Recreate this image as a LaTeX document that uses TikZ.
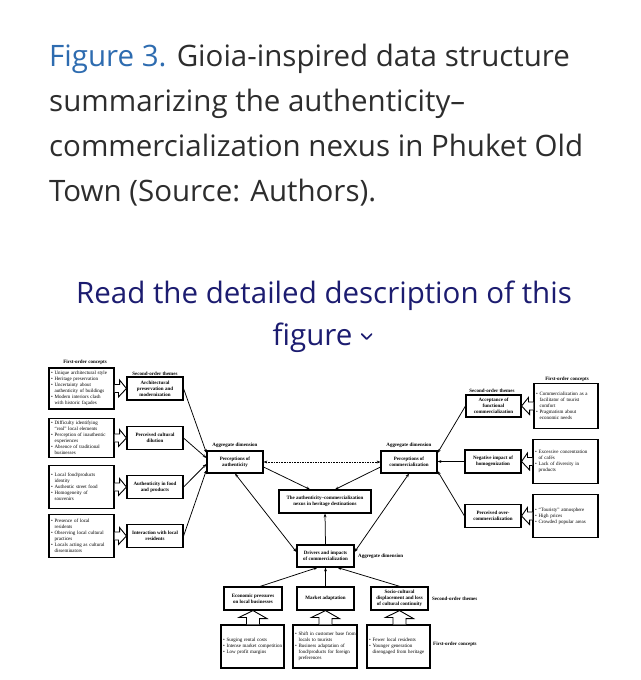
\documentclass[tikz,border=0pt]{standalone}
\usepackage{fontspec}
\setmainfont{Open Sans}
\newfontfamily\dfont{Liberation Serif}
\usetikzlibrary{arrows.meta,calc}
\definecolor{figblue}{RGB}{46,108,176}
\definecolor{captxt}{RGB}{45,45,45}
\definecolor{readnavy}{RGB}{28,28,112}
\newcommand\bl[1]{\mbox{\textbullet\ #1}}
\newcommand\cl[1]{\mbox{\phantom{\textbullet\ }#1}}
\begin{document}
\begin{tikzpicture}[x=1pt,y=-1pt,
  captext/.style={anchor=base west,inner sep=0,font=\fontsize{29.5}{36}\selectfont,text=captxt},
  readtxt/.style={anchor=base,inner sep=0,font=\fontsize{29.5}{36}\selectfont,text=readnavy},
  fo/.style={draw,line width=1.1pt,inner xsep=2.2pt,inner ysep=0pt,align=left,
    font=\dfont\fontsize{5}{6.1}\selectfont},
  so/.style={draw,line width=1.1pt,inner sep=0pt,align=center,
    font=\dfont\bfseries\fontsize{5}{6}\selectfont},
  lbl/.style={inner sep=0pt,font=\dfont\bfseries\fontsize{5}{6}\selectfont},
  arr/.style={line width=0.75pt,-{Stealth[length=3.8pt,width=2.8pt]}},
  darr/.style={line width=0.75pt,{Stealth[length=3.8pt,width=2.8pt]}-{Stealth[length=3.8pt,width=2.8pt]}},
  blk/.style={draw,line width=0.9pt,fill=white,line join=miter}
]
\useasboundingbox (0,0) rectangle (640,680);
\fill[white] (0,0) rectangle (640,680);

% caption
\node[captext] (c1) at (49,66.7) {\textcolor{figblue}{Figure 3.} Gioia-inspired data structure};
\node[captext] (c2) at (49,111.7) {summarizing the authenticity–};
\node[captext] (c3) at (49,156.7) {commercialization nexus in Phuket Old};
\node[captext] (c4) at (49,201.7) {Town (Source: Authors).};
\node[readtxt] (r1) at (324,303) {Read the detailed description of this};
\node[readtxt,anchor=base west] (r2) at (272.5,345) {figure};
\draw[readnavy,line width=1.6pt,line cap=round,line join=round]
  ([xshift=9pt,yshift=11pt]r2.base east) -- ++(5,5) -- ++(5,-5);

% labels
\node[lbl] (lb1) at (85,362) {First-order concepts};
\node[lbl] (lb2) at (155,374) {Second-order themes};
\node[lbl] (lb3) at (235,445) {Aggregate dimension};
\node[lbl] (lb4) at (409,445) {Aggregate dimension};
\node[lbl] (lb5) at (492,391) {Second-order themes};
\node[lbl] (lb6) at (567,379) {First-order concepts};
\node[lbl,anchor=west] (lb7) at (358,556) {Aggregate dimension};
\node[lbl,anchor=west] (lb8) at (432,599) {Second-order themes};
\node[lbl,anchor=west] (lb9) at (433,644) {First-order concepts};

% left first-order
\node[fo,minimum height=41,text width=60.6] (L1) at (81.5,388.5) {\bl{Unique architectural style}\\\bl{Heritage preservation}\\\bl{Uncertainty about}\\\cl{authenticity of buildings}\\\bl{Modern interiors clash}\\\cl{with historic façades}};
\node[fo,minimum height=39,text width=60.6] (L2) at (81.5,438) {\bl{Difficulty identifying}\\\cl{“real” local elements}\\\bl{Perception of inauthentic}\\\cl{experiences}\\\bl{Absence of traditional}\\\cl{businesses}};
\node[fo,minimum height=43,text width=60.6] (L3) at (81.5,487) {\bl{Local food/products}\\\cl{identity}\\\bl{Authentic street food}\\\bl{Homogeneity of}\\\cl{souvenirs}};
\node[fo,minimum height=43,text width=60.6] (L4) at (81.5,536) {\bl{Presence of local}\\\cl{residents}\\\bl{Observing local cultural}\\\cl{practices}\\\bl{Locals acting as cultural}\\\cl{disseminators}};

% left second-order
\node[so,minimum width=56,minimum height=23] (S1) at (155,388.5) {Architectural\\preservation and\\modernization};
\node[so,minimum width=56,minimum height=23] (S2) at (155,438) {Perceived cultural\\dilution};
\node[so,minimum width=56,minimum height=23] (S3) at (155,487) {Authenticity in food\\and products};
\node[so,minimum width=56,minimum height=23] (S4) at (155,536) {Interaction with local\\residents};

% aggregates and centre
\node[so,minimum width=56,minimum height=22] (A) at (235,462) {Perceptions of\\authenticity};
\node[so,minimum width=56,minimum height=22] (C) at (409,462) {Perceptions of\\commercialization};
\node[so,minimum width=92,minimum height=23] (N) at (325,501.5) {The authenticity–commercialization\\nexus in heritage destinations};
\node[so,minimum width=57,minimum height=22] (D) at (325.5,556) {Drivers and impacts\\of commercialization};

% right second-order
\node[so,minimum width=55,minimum height=22] (R1) at (493.5,406) {Acceptance of\\functional\\commercialization};
\node[so,minimum width=56,minimum height=23] (R2) at (493,461.5) {Negative impact of\\homogenization};
\node[so,minimum width=56,minimum height=23] (R3) at (493,516) {Perceived over-\\commercialization};

% right first-order
\node[fo,minimum height=45,text width=59.6] (Q1) at (566,406) {\bl{Commercialization as a}\\\cl{facilitator of tourist}\\\cl{comfort}\\\bl{Pragmatism about}\\\cl{economic needs}};
\node[fo,minimum height=44,text width=60.6] (Q2) at (565.5,461.5) {\bl{Excessive concentration}\\\cl{of cafés}\\\bl{Lack of diversity in}\\\cl{products}};
\node[fo,minimum height=43,text width=60.6] (Q3) at (565.5,516) {\bl{“Touristy” atmosphere}\\\bl{High prices}\\\bl{Crowded popular areas}};

% bottom second-order
\node[so,minimum width=58,minimum height=23] (B1) at (253,598.5) {Economic pressures\\on local businesses};
\node[so,minimum width=57,minimum height=23] (B2) at (325.5,598.5) {Market adaptation};
\node[so,minimum width=57,minimum height=23] (B3) at (399.5,598.5) {Socio-cultural\\displacement and loss\\of cultural continuity};

% bottom first-order
\node[fo,minimum height=43,text width=58.6] (F1) at (252.5,646.5) {\bl{Surging rental costs}\\\bl{Intense market competition}\\\bl{Low profit margins}};
\node[fo,minimum height=43,text width=59.6] (F2) at (325,646.5) {\bl{Shift in customer base from}\\\cl{locals to tourists}\\\bl{Business adaptation of}\\\cl{food/products for foreign}\\\cl{preferences}};
\node[fo,minimum height=43,text width=58.6] (F3) at (398.5,646.5) {\bl{Fewer local residents}\\\bl{Younger generation}\\\cl{disengaged from heritage}};

% block arrows left (first-order -> second-order)
\foreach \i in {1,2,3,4}{
  \draw[blk] ($(L\i.east)+(0,-4)$) -- ++(5,0) -- ++(0,-4.5) -- (S\i.west) -- ++(-8,8.5) -- ++(0,-4.5) -- ($(L\i.east)+(0,4)$);
}
% block arrows right
\foreach \i in {1,2,3}{
  \draw[blk] ($(Q\i.west)+(0,-4)$) -- ++(-5,0) -- ++(0,-4.5) -- (R\i.east |- Q\i.west) -- ++(8,8.5) -- ++(0,-4.5) -- ($(Q\i.west)+(0,4)$);
}
% block arrows bottom
\foreach \i in {1,2,3}{
  \draw[blk] ($(B\i.south |- F\i.north)+(-6.5,0)$) -- ++(0,-7) -- ++(-7.5,0) -- (B\i.south) -- ++(14,8) -- ++(-7.5,0) -- ($(B\i.south |- F\i.north)+(6.5,0)$);
}

% connectors to aggregate "authenticity"
\draw[arr] (S1.east) -- ($(A.west)+(0,-9)$);
\draw[arr] (S2.east) -- ($(A.west)+(0,-4)$);
\draw[arr] (S3.east) -- ($(A.west)+(0,2)$);
\draw[arr] (S4.east) -- ($(A.west)+(0,8)$);
% connectors to aggregate "commercialization"
\draw[arr] (R1.west) -- ($(C.east)+(0,-9)$);
\draw[arr] (R2.west) -- (C.east |- R2.west);
\draw[arr] (R3.west) -- ($(C.east)+(0,9)$);
% between aggregates
\draw[darr,dash pattern=on 1.6pt off 1pt] (A.east) -- (C.west);
\draw[arr] ($(A.east)+(0,5)$) -- ($(N.north)+(-15,0)$);
\draw[arr] ($(C.west)+(0,5)$) -- ($(N.north)+(10,0)$);
\draw[darr] (A.south) -- ($(D.west)+(0,-4)$);
\draw[darr] (C.south) -- ($(D.east)+(0,-4)$);
\draw[arr] (D.north) -- (N.south);
% bottom themes to drivers
\draw[arr] ($(B1.north)+(7,0)$) -- ($(D.south)+(-8,0)$);
\draw[arr] (B2.north) -- (D.south);
\draw[arr] ($(B3.north)+(0.5,0)$) -- ($(D.south)+(12,0)$);
\end{tikzpicture}
\end{document}
